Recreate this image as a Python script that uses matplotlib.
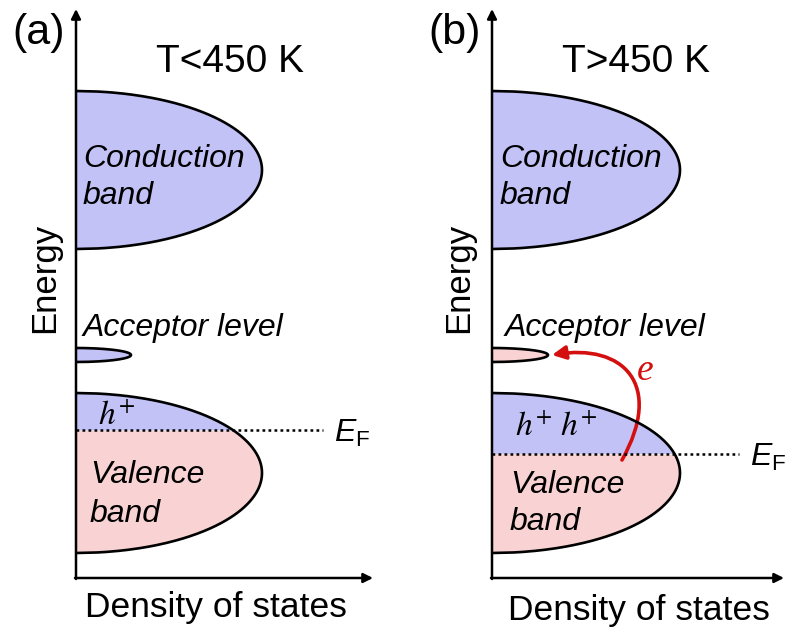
import numpy as np
import matplotlib
matplotlib.use("Agg")
from matplotlib import pyplot as plt
from matplotlib.patches import FancyArrowPatch
from matplotlib.path import Path

plt.rcParams['font.family'] = ['Liberation Sans', 'DejaVu Sans']
plt.rcParams['mathtext.fontset'] = 'custom'
plt.rcParams['mathtext.rm'] = 'Liberation Sans'
plt.rcParams['mathtext.it'] = 'Liberation Sans:italic'

# band schematic values (energy and DOS in arbitrary units)
panel_tags = ["(a)", "(b)"]
panel_temps = ["T<450 K", "T>450 K"]
band_center = [4.08, 2.23, 1.05]        # conduction, acceptor, valence
band_halfheight = [0.79, 0.07, 0.80]
band_dos_a = [1.86, 0.55, 1.86]
band_dos_b = [1.88, 0.56, 1.88]
fermi_level = [1.48, 1.24]
acceptor_filled = [False, True]
hole_x = [[0.22], [0.23, 0.68]]
hole_y = [1.53, 1.42]
# excitation path: valence band (start) -> acceptor level (tip)
jump_start = (1.30, 1.18)
jump_end = (0.60, 2.23)

BLUE = '#c2c2f7'
PINK = '#f9d3d3'
RED = '#d40f0f'


def half_ellipse(center, half, width, n=300):
  e = np.linspace(center - half, center + half, n)
  x = width * np.sqrt(np.clip(1 - ((e - center) / half) ** 2, 0, None))
  return e, x


def draw_panel(ax, i, dos, xmax):
  ax.set_xlim(0, xmax)
  ax.set_ylim(0, 5.7)
  ax.axis('off')

  # conduction band
  e, x = half_ellipse(band_center[0], band_halfheight[0], dos[0])
  ax.fill_betweenx(e, 0, x, color=BLUE, lw=0)
  ax.plot(x, e, color='black', lw=1.9)

  # acceptor level
  e, x = half_ellipse(band_center[1], band_halfheight[1], dos[1])
  ax.fill_betweenx(e, 0, x, color=PINK if acceptor_filled[i] else BLUE, lw=0)
  ax.plot(x, e, color='black', lw=1.9)

  # valence band, holes above E_F
  ef = fermi_level[i]
  e, x = half_ellipse(band_center[2], band_halfheight[2], dos[2])
  ax.fill_betweenx(e, 0, x, where=e <= ef, color=PINK, lw=0, interpolate=True)
  ax.fill_betweenx(e, 0, x, where=e >= ef, color=BLUE, lw=0, interpolate=True)
  ax.plot(x, e, color='black', lw=1.9)

  ax.plot([0, 2.47], [ef, ef], color='black', lw=1.8, linestyle=(0, (1.1, 1.3)))

  # axes with arrow heads
  ax.annotate('', xy=(0, 5.69), xytext=(0, -0.01), annotation_clip=False,
              arrowprops=dict(arrowstyle='-|>', lw=1.8, color='black',
                              mutation_scale=14, shrinkA=0, shrinkB=0))
  ax.annotate('', xy=(xmax - 0.03, 0), xytext=(-0.01, 0), annotation_clip=False,
              arrowprops=dict(arrowstyle='-|>', lw=1.8, color='black',
                              mutation_scale=14, shrinkA=0, shrinkB=0))


fig = plt.figure(figsize=(7.87, 6.33), dpi=100)
axa = fig.add_axes([76 / 787, 55 / 633, 300 / 787, 570 / 633])
axb = fig.add_axes([492 / 787, 55 / 633, 295 / 787, 570 / 633])
draw_panel(axa, 0, band_dos_a, 3.0)
draw_panel(axb, 1, band_dos_b, 2.95)

label_fs = 23
for i, ax in enumerate([axa, axb]):
  ax.text(-0.37, 5.45, panel_tags[i], fontsize=31, ha='center', va='center', clip_on=False)
  ax.text([1.54, 1.44][i], 5.06, panel_temps[i], fontsize=28, ha='center', va='baseline')
  ax.text([0.07, 0.08][i], 4.11, "Conduction", fontsize=label_fs, style='italic', va='baseline')
  ax.text([0.07, 0.08][i], 3.74, "band", fontsize=label_fs, style='italic', va='baseline')
  ax.text([0.07, 0.13][i], 2.42, "Acceptor level", fontsize=label_fs, style='italic', va='baseline')
  ax.text([0.14, 0.18][i], [0.95, 0.85][i], "Valence", fontsize=label_fs, style='italic', va='baseline')
  ax.text([0.14, 0.18][i], [0.56, 0.48][i], "band", fontsize=label_fs, style='italic', va='baseline')
  for hx in hole_x[i]:
    ax.text(hx, hole_y[i], r"$h^{+}$", fontsize=24, math_fontfamily='stix', va='baseline')
  ax.text(2.58, fermi_level[i] - 0.12, r"$E_{\mathrm{F}}$", fontsize=23, va='baseline', clip_on=False)
  ax.text([0.09, 0.16][i], [-0.39, -0.42][i], "Density of states", fontsize=25.5,
          va='baseline', clip_on=False)
  ax.text([-0.31, -0.33][i], 3.0, "Energy", fontsize=25, rotation=90,
          ha='center', va='center', clip_on=False)

# electron excited from the valence band to the acceptor level
sx, sy = jump_start
tx, ty = jump_end
jump = Path([(sx, sy), (sx + 0.42, sy + 0.75), (tx + 0.72, ty + 0.12), (tx, ty)],
            [Path.MOVETO, Path.CURVE4, Path.CURVE4, Path.CURVE4])
axb.add_patch(FancyArrowPatch(path=jump, arrowstyle='-|>', lw=2.6, color=RED,
                              mutation_scale=20, shrinkA=0, shrinkB=0))
axb.text(1.53, 2.07, "e", fontsize=27, color=RED, family='Liberation Serif',
         style='italic', ha='center', va='center')

fig.savefig("out.png", dpi=100)
